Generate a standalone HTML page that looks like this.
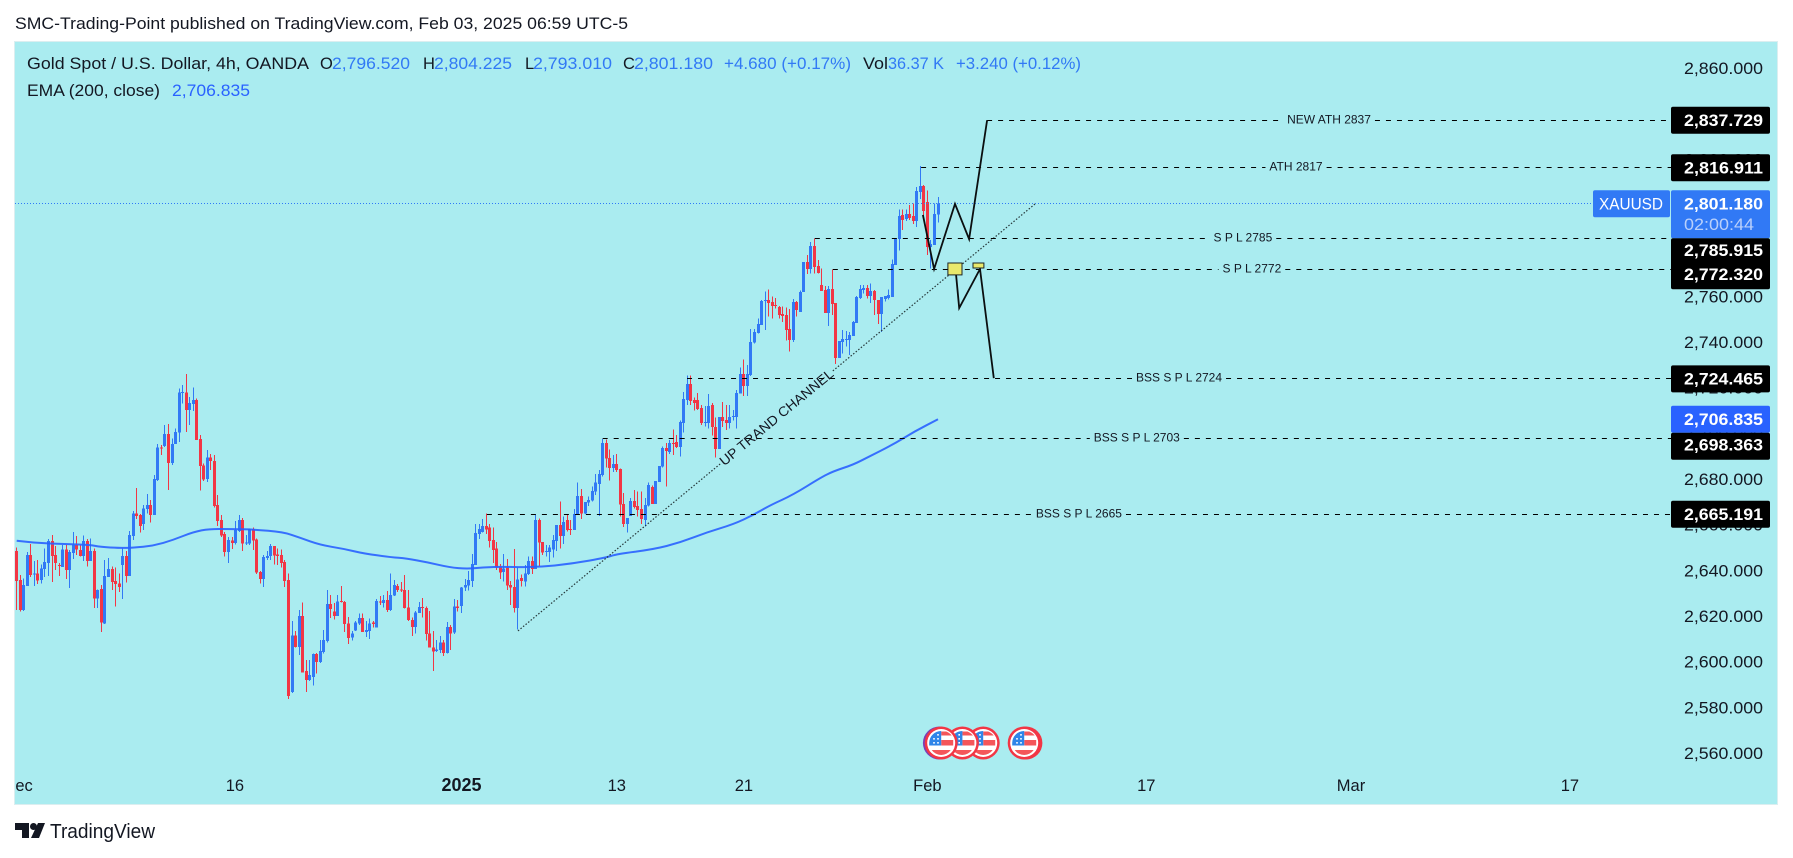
<!DOCTYPE html>
<html lang="en">
<head>
<meta charset="utf-8">
<title>Gold Spot / U.S. Dollar 4h chart</title>
<style>
html,body{margin:0;padding:0;background:#fff;width:1793px;height:858px;overflow:hidden}
svg{display:block;font-family:"Liberation Sans",Arial,sans-serif}
</style>
</head>
<body>
<svg id="chart" xmlns="http://www.w3.org/2000/svg" width="1793" height="858" viewBox="0 0 1793 858">
<defs><clipPath id="plot-clip"><rect x="15" y="42" width="1762" height="762"/></clipPath></defs>
<rect x="0" y="0" width="1793" height="858" fill="#ffffff"/>
<text x="15" y="29" font-size="17" fill="#131722" textLength="613" lengthAdjust="spacingAndGlyphs">SMC-Trading-Point published on TradingView.com, Feb 03, 2025 06:59 UTC-5</text>
<rect x="14.5" y="41.5" width="1763" height="763" fill="#aaecf0" stroke="#dbeef0" stroke-width="1"/>
<g id="layer-ticks"></g>
<g id="layer-time" clip-path="url(#plot-clip)"></g>
<g id="layer-candles" clip-path="url(#plot-clip)" shape-rendering="crispEdges"></g>
<g id="layer-ema" clip-path="url(#plot-clip)"></g>
<g id="layer-draw" clip-path="url(#plot-clip)"></g>
<g id="layer-flags"></g>
<g id="layer-labels"></g>

<g font-size="16.5">
<text x="27" y="69" fill="#131722" textLength="282" lengthAdjust="spacingAndGlyphs">Gold Spot / U.S. Dollar, 4h, OANDA</text>
<text x="320" y="69" fill="#131722">O</text>
<text x="332" y="69" fill="#3179f5" textLength="78" lengthAdjust="spacingAndGlyphs">2,796.520</text>
<text x="423" y="69" fill="#131722">H</text>
<text x="434" y="69" fill="#3179f5" textLength="78" lengthAdjust="spacingAndGlyphs">2,804.225</text>
<text x="525" y="69" fill="#131722">L</text>
<text x="533" y="69" fill="#3179f5" textLength="79" lengthAdjust="spacingAndGlyphs">2,793.010</text>
<text x="623" y="69" fill="#131722">C</text>
<text x="634" y="69" fill="#3179f5" textLength="79" lengthAdjust="spacingAndGlyphs">2,801.180</text>
<text x="724" y="69" fill="#3179f5" textLength="127" lengthAdjust="spacingAndGlyphs">+4.680 (+0.17%)</text>
<text x="863" y="69" fill="#131722" textLength="25" lengthAdjust="spacingAndGlyphs">Vol</text>
<text x="888" y="69" fill="#3179f5" textLength="56" lengthAdjust="spacingAndGlyphs">36.37 K</text>
<text x="956" y="69" fill="#3179f5" textLength="125" lengthAdjust="spacingAndGlyphs">+3.240 (+0.12%)</text>
<text x="27" y="96" fill="#131722" textLength="133" lengthAdjust="spacingAndGlyphs">EMA (200, close)</text>
<text x="172" y="96" fill="#2962ff" textLength="78" lengthAdjust="spacingAndGlyphs">2,706.835</text>
</g>

<g>
<path fill="#131722" d="M15 823H29V838H22V830H15Z M38 823H45L39 838H31Z"/>
<circle cx="33.5" cy="826.5" r="3.5" fill="#131722"/>
<text x="50" y="838" font-size="20" fill="#131722" textLength="105" lengthAdjust="spacingAndGlyphs">TradingView</text>
</g>
</svg>
<script>
var opens=[2649,2636.3,2623.2,2633.7,2647.3,2639,2639.3,2636.3,2641.2,2643.9,
2653.4,2647.3,2642.9,2642.2,2649.8,2640.7,2648.3,2651.7,2649.5,2646.9,
2653.4,2644.7,2649,2628.2,2632.4,2617.4,2637.8,2641.2,2635.9,2634.9,
2642.9,2646.9,2638.1,2655.6,2665.5,2664.8,2660.9,2667.4,2669.2,2664.8,
2680.1,2694.4,2695,2700.3,2687.7,2695.9,2700.9,2718.2,2718.4,2710.8,
2713.4,2715.2,2698.1,2686.6,2680.6,2690.1,2688.5,2669.2,2662.6,2656.6,
2648.6,2653.7,2652.5,2657.9,2662.6,2652.3,2652.4,2658.7,2654.2,2639.8,
2636.8,2646,2646.9,2651.2,2647.6,2647.3,2644.2,2636.3,2587.4,2612.2,
2607.1,2620.6,2596.5,2592.5,2594,2603.9,2600.4,2604.9,2609.6,2625.8,
2622.5,2620.7,2627.1,2626.8,2617.4,2611.1,2614.4,2617.4,2619.7,2613.7,
2614.1,2617.7,2615.5,2627,2626.4,2627.6,2623.2,2629.5,2633.7,2632.3,
2632,2624.4,2618.8,2615.9,2622,2624.5,2624.1,2613,2606.8,2605.4,
2605.7,2609,2604.5,2615.9,2613.3,2624.7,2625.1,2633,2633.9,2636,
2642.9,2656.5,2657.5,2660,2659.3,2653.9,2650.2,2642.2,2639.9,2641.8,
2634.2,2633.3,2624.1,2637.3,2635.8,2639,2644.7,2641.2,2662.7,2653,
2648.7,2648.7,2649.8,2653.5,2660.5,2655.7,2662.7,2658.7,2658.3,2665.2,
2673.2,2665.6,2670.3,2671.1,2675.1,2678.4,2682.4,2696.3,2689.8,2685.5,
2687.2,2685,2669.7,2660.9,2664.4,2671,2668.8,2667.5,2662.7,2669,
2677.1,2669.7,2679.3,2686,2694.2,2692.5,2696.4,2696.8,2694.7,2705.2,
2715.2,2722.2,2715.2,2715.2,2711.7,2705.2,2705.2,2713,2703.3,2693.8,
2707.8,2706.5,2705.2,2707.8,2707.8,2718.1,2726.6,2721.3,2726.1,2740.3,
2744.5,2748,2758.6,2759,2758.1,2756.8,2755.9,2752.9,2752.4,2746.3,
2741.5,2758.1,2753.7,2762.5,2775.6,2772.6,2782.7,2773.9,2765.6,2763.4,
2753.3,2763.8,2757.7,2733.6,2740.6,2741.5,2741.5,2743.2,2748.9,2759.9,
2763.4,2764.3,2760.8,2762.9,2759,2752.9,2759.4,2759.9,2760.3,2774.3,
2785.7,2796.2,2794.5,2796.7,2795.8,2793.6,2806.3,2808.9,2801.9,2782.2,
2783.1,2796.52];
var highs=[2650.6,2638.5,2637.1,2648.7,2652.1,2644.7,2645.1,2643.2,2650.2,2654.3,
2656,2651.2,2643.9,2651.7,2651.7,2649.5,2657.4,2655.6,2651.7,2655.8,
2654.3,2654.6,2650.2,2632.3,2634.1,2645.1,2646.1,2642.2,2641.9,2639.3,
2650.2,2649,2657.8,2666.6,2676.6,2665.2,2669.2,2674,2671.4,2682.3,
2695.9,2695.5,2704.2,2704.7,2698.4,2702.8,2720.3,2721.7,2726.6,2716.6,
2720.7,2715.9,2699.8,2687.4,2693.3,2691.5,2691.1,2673.6,2664.8,2657.5,
2655.3,2655.3,2662.2,2664.8,2663.6,2656,2659,2659.3,2654.6,2640.4,
2647.3,2649.2,2652.1,2651.2,2650.2,2649.8,2645.1,2639.3,2618.4,2614,
2623.2,2626.6,2601.3,2601.3,2604.2,2604.5,2610.1,2614.4,2632,2629.8,
2626.4,2629.8,2633.7,2627.3,2620.3,2614.1,2618.4,2621.7,2621.7,2618.4,
2619.5,2618.4,2628,2629.3,2629.8,2631.5,2639.3,2636.3,2634.6,2635.6,
2638.5,2632,2620,2622.9,2626.8,2628.5,2624.7,2622.9,2614.1,2610.1,
2611.8,2610.1,2618.1,2616.7,2628,2627.6,2633.4,2636.8,2640.3,2647.7,
2660.9,2660.9,2663.1,2665.5,2660.9,2659.3,2653.1,2643.4,2647.8,2645.5,
2636,2650,2641.8,2638.9,2643,2646.6,2646.6,2664.9,2663.4,2653,
2651.7,2651.7,2656.1,2660.5,2670.7,2664.1,2664.9,2662.7,2667.4,2679,
2676.3,2670.6,2672.9,2677.3,2682.8,2684.6,2698.2,2698,2693.6,2691.1,
2691.6,2685.3,2674.4,2663.6,2672.3,2675.8,2675.1,2675.1,2672.2,2679,
2677.7,2679.8,2686.3,2694.8,2696.3,2697.7,2702.4,2699.9,2706.2,2718.7,
2726,2726,2716.4,2718.2,2713,2712.6,2717.9,2713.8,2707.6,2707.8,
2714.4,2713,2713,2710.9,2719.6,2729.5,2733,2730.5,2746.3,2746.3,
2751,2759,2762.7,2763.7,2760.5,2760,2756.4,2756.1,2755.8,2755.1,
2759.4,2758.6,2763.1,2775.6,2778.7,2784.5,2786,2776.5,2772.9,2765.1,
2765.1,2772.4,2757.7,2741,2745.9,2745.4,2745.1,2749.8,2760.8,2765.6,
2765.6,2765.6,2766.3,2763.4,2759,2760.3,2760.8,2763.7,2776.8,2786.2,
2798.7,2798.7,2798.7,2800.6,2801.3,2808.6,2817.7,2809.4,2806.9,2785.3,
2801.3,2804.225];
var lows=[2623.2,2622.5,2622.9,2633.7,2637.8,2633.7,2634.7,2634.9,2637.8,2638.2,
2635.6,2640.7,2638.2,2642.2,2636.8,2633,2645.5,2647.3,2646.6,2644.8,
2642.2,2644.7,2624.2,2624.2,2613.7,2617.1,2637.8,2632,2624.7,2631.2,
2628,2635.2,2638.1,2653.9,2663.1,2657.1,2658.2,2665.5,2661.5,2664.8,
2679.7,2691.1,2694.7,2675.8,2686.7,2695.9,2696.9,2713.7,2701.3,2704.2,
2710.5,2697.7,2675.5,2679.8,2679.4,2684.5,2668.2,2660.1,2655.3,2646.6,
2643.9,2649.9,2652,2657.5,2649.2,2651.7,2651.7,2649.5,2639,2634.9,
2633.4,2645.1,2645.1,2643.1,2642.9,2641.9,2633.4,2584.2,2587,2606.8,
2603.5,2595.8,2587.4,2592.2,2590.1,2595.5,2600.1,2604.2,2608.9,2619.8,
2619.1,2620.6,2626.6,2613.7,2608.3,2609.8,2614.1,2616.6,2613.7,2611.5,
2610.6,2615.5,2615.5,2625.4,2624.4,2622.5,2622.9,2629.3,2631.2,2631.2,
2623.9,2618.4,2611.8,2613,2622,2620,2609.8,2606.8,2596.5,2604.9,
2604.5,2603.1,2604.2,2605.7,2612.7,2622.5,2622,2631.5,2631.7,2633.4,
2642.9,2654.3,2657.2,2656.5,2650.5,2643.9,2640.7,2636.8,2635.7,2632,
2625.4,2622.1,2614.8,2633.5,2633.5,2638.6,2639,2641.2,2642.5,2647.3,
2646.6,2644.4,2646.2,2649.2,2650.3,2652.2,2657.6,2656.1,2658.3,2664.9,
2663.1,2665.2,2668.8,2670.7,2673.6,2664.4,2681.7,2685.7,2679.9,2683.8,
2683.6,2664.1,2659.5,2657.1,2664.4,2667.8,2664.1,2660.9,2659.8,2668.5,
2669.7,2669.7,2679.3,2685.7,2677.3,2691.6,2691.1,2694.1,2690.4,2700.9,
2713,2713,2710.6,2710.9,2704.3,2703.6,2702.8,2699.6,2690.1,2693.8,
2703.3,2702.1,2702.8,2706.2,2702.8,2718.1,2717,2717,2725.7,2740,
2744.4,2748,2745.9,2751.7,2751,2755.3,2751,2749.5,2741.2,2736.4,
2740.6,2751.7,2753.7,2762.5,2770.4,2770.7,2770.7,2770.7,2762.9,2753.3,
2747.6,2752.4,2731,2733.6,2735.6,2738.6,2734.9,2743.2,2748.9,2759.4,
2761.9,2759.7,2757.8,2752.4,2748.5,2745.1,2758.3,2759.3,2760.3,2774.3,
2780.6,2789.7,2793.6,2794,2792.3,2791.1,2803.2,2794.8,2778.7,2772.9,
2783.1,2793.01];
var closes=[2636,2623.2,2634.1,2647.3,2638.5,2639.3,2636.3,2641.4,2644.2,2653.4,
2647,2643.9,2642.5,2649.8,2640.7,2648.7,2652,2649.8,2647,2653.4,
2644.8,2649,2628.2,2632,2617.7,2638.1,2641.2,2635.6,2634.7,2633.3,
2646.9,2638.1,2656,2665.5,2664.4,2660.1,2667.7,2669.2,2664.8,2680.6,
2694.4,2693.9,2700.3,2687.7,2695.9,2701.2,2718.4,2718.7,2710.8,2714,
2715.2,2697.7,2686.3,2680.4,2690.1,2688.5,2668.8,2662.2,2656,2648.6,
2653.9,2652.7,2658.2,2662.6,2652.3,2652.8,2658.7,2653.6,2639.6,2636.8,
2646.4,2646.9,2651.2,2647.1,2647,2643.9,2636,2585.5,2612.2,2607.1,
2620.6,2596,2592.5,2594.7,2603.9,2600.4,2605.2,2610.1,2625.8,2623.6,
2620.6,2627,2626.8,2617.1,2611.1,2613,2617.8,2619.7,2613.7,2614.4,
2617.4,2617.2,2627.1,2626.6,2627.6,2623.2,2629.8,2634.1,2632,2631.8,
2624.2,2618.8,2615.9,2622.2,2624.5,2624.2,2612.8,2606.8,2605.2,2606,
2609,2604.5,2615.9,2613,2624.7,2624.2,2633.1,2634.1,2636.3,2643.3,
2656.9,2658.7,2660,2658.5,2653.4,2649.5,2641.9,2639.6,2641.5,2633.9,
2633,2624.1,2636.7,2636,2639.3,2644.7,2641.2,2662.7,2652.8,2648.5,
2649.1,2650.6,2653.9,2660.5,2655.7,2661.7,2658.3,2658.3,2665.2,2673.2,
2665.6,2670.6,2671.4,2675.4,2679,2682.8,2696.3,2689.5,2685.5,2687.2,
2684.6,2669.4,2660.9,2663.6,2671,2668.4,2667.1,2663.1,2669.2,2678,
2669.7,2679.8,2686.3,2694.2,2692.9,2696.3,2696,2694.7,2705.6,2715.7,
2722.2,2714.8,2713.9,2711.3,2705.2,2705.6,2712.6,2703.3,2693.8,2707.8,
2706,2705.2,2707.8,2708.2,2718.2,2726.6,2721.3,2726.6,2740.6,2745,
2748.5,2758.6,2759,2757.7,2756.4,2756.4,2752.4,2752,2745.9,2741.5,
2758.1,2754.6,2762.5,2775.6,2772.6,2782.7,2773.5,2770.8,2762.9,2753.3,
2763.8,2757.2,2733.6,2741,2741.9,2741.9,2743.7,2749.4,2760.3,2763.8,
2764.3,2760.8,2762.9,2759,2752.9,2760.3,2760.8,2761.2,2774.8,2786.2,
2795.8,2794,2796.7,2794.9,2793.6,2806.7,2808.9,2798,2782.2,2783.5,
2796.7,2801.18];

var emaBars=[0,4.7,14.2,20.8,23.6,29.3,33,38.7,44.3,50,54.7,61.4,67,75.5,80.3,85.9,92.5,98.3,105.8,110.5,116.2,122.7,127.6,132.1,136.9,147.3,157.6,167.2,170,180.3,187.9,195.5,203,208.7,213.4,220,227.6,231.3,237,241.8,248,254.5,261];
var emaValues=[2653.6,2652.7,2652.1,2651.8,2650.9,2650.4,2650.5,2651.4,2653.9,2657.4,2658.8,2658.7,2658.5,2657.4,2654.9,2651.8,2650.1,2648,2646.4,2645.8,2644.2,2641.9,2641.3,2641.9,2642.2,2641.9,2643.6,2646.3,2647.8,2649.8,2652.8,2657.3,2660.8,2664.9,2669.1,2673.8,2681.1,2684,2686.9,2690.7,2695.5,2701.6,2706.8];

var priceTicks=[2860,2840,2820,2800,2780,2760,2740,2720,2700,2680,2660,2640,2620,2600,2580,2560];
var timeTickLabels=["Dec","16","2025","13","21","Feb","17","Mar","17"];
var timeTickBars=[0.4,61.8,126,170,206,258,320,378,440];

var levelPrices=[2837.729,2816.911,2785.915,2772.32,2724.465,2698.363,2665.191];
var levelStartBars=[274.9,256.2,226.1,231.2,189.9,166,133.2];
var levelNames=["NEW ATH 2837","ATH 2817","S P L 2785","S P L 2772","BSS S P L 2724","BSS S P L 2703","BSS S P L 2665"];

var lastPrice=2801.18;
var emaLast=2706.835;

var pathUpBars=[256.7,259.9,265.8,269.8,274.9];
var pathUpPrices=[2796.3,2772.6,2801.1,2785.7,2837.7];
var pathDownBars=[266.1,267,272.9,276.8];
var pathDownPrices=[2770.4,2755.5,2772.6,2724.8];
var trendBars=[142,288.5];
var trendPrices=[2614.1,2801.1];
var noteLeftBars=[263.8,270.9];
var noteRightBars=[267.8,274];
var noteTopPrices=[2775.2,2775.2];
var noteBottomPrices=[2770,2773];
var eventBars=[261.4,261.9,267.9,273.8,285.9,285.4];
var eventColors=["#7b3fb5","#f23645","#f23645","#f23645","#f23645","#f23645"];

var SVGNS="http://www.w3.org/2000/svg";
function xAxis(bar){return 16.7+3.53*bar;}
function yAxis(price){return 69.4+(2860-price)*2.2835;}
function mk(tag,parent,attrs){
  var el=document.createElementNS(SVGNS,tag);
  for(var k in attrs){el.setAttribute(k,attrs[k]);}
  parent.appendChild(el);
  return el;
}
function fmt(v){
  var s=v.toFixed(3);
  return s.charAt(0)+","+s.slice(1);
}
var layerTicks=document.getElementById("layer-ticks");
var layerTime=document.getElementById("layer-time");
var layerCandles=document.getElementById("layer-candles");
var layerEma=document.getElementById("layer-ema");
var layerDraw=document.getElementById("layer-draw");
var layerFlags=document.getElementById("layer-flags");
var layerLabels=document.getElementById("layer-labels");

priceTicks.forEach(function(p){
  var t=mk("text",layerTicks,{x:1684,y:(yAxis(p)+4.6).toFixed(1),"font-size":17,fill:"#131722",textLength:79,lengthAdjust:"spacingAndGlyphs"});
  
  
  t.textContent=fmt(p);
});
timeTickLabels.forEach(function(label,i){
  var bold=label==="2025";
  var t=mk("text",layerTime,{x:xAxis(timeTickBars[i]).toFixed(1),y:791,"font-size":bold?18:16.5,"font-weight":bold?"bold":"normal","text-anchor":"middle",fill:"#131722"});
  
  
  t.textContent=label;
});

// price line (dotted)
var lastY=Math.floor(yAxis(lastPrice))+0.5;
var priceLine=mk("line",layerDraw,{x1:15,x2:1593,y1:lastY,y2:lastY,stroke:"#2f7af7","stroke-width":1,"stroke-dasharray":"1 2"});



// candles
closes.forEach(function(c,i){
  var o=opens[i],h=highs[i],l=lows[i];
  var cx=xAxis(i);
  var color=c>=o?"#3179f5":"#f23645";
  var g=mk("g",layerCandles,{fill:color});
  
  
  var bx=Math.round(cx-1.5);
  var wick=mk("rect",g,{x:bx+1,y:yAxis(h).toFixed(1),width:1,height:Math.max(1,yAxis(l)-yAxis(h)).toFixed(1)});
  
  
  var top=yAxis(Math.max(o,c)),bot=yAxis(Math.min(o,c));
  var body=mk("rect",g,{x:bx,y:top.toFixed(1),width:3,height:Math.max(1,bot-top).toFixed(1)});
  
  
});

// EMA (smoothed through midpoints of consecutive readings)
var emaPts=emaBars.map(function(b,i){return [xAxis(b),yAxis(emaValues[i])];});
var emaD="M"+emaPts[0][0].toFixed(1)+" "+emaPts[0][1].toFixed(1);
for(var ei=1;ei<emaPts.length-1;ei++){
  var mx=(emaPts[ei][0]+emaPts[ei+1][0])/2,my=(emaPts[ei][1]+emaPts[ei+1][1])/2;
  emaD+="Q"+emaPts[ei][0].toFixed(1)+" "+emaPts[ei][1].toFixed(1)+" "+mx.toFixed(1)+" "+my.toFixed(1);
}
emaD+="L"+emaPts[emaPts.length-1][0].toFixed(1)+" "+emaPts[emaPts.length-1][1].toFixed(1);
var emaPath=mk("path",layerEma,{d:emaD,fill:"none",stroke:"#2962ff","stroke-width":2,"stroke-linejoin":"round","stroke-opacity":0.9});



// trend line with label gap
var tx1=xAxis(trendBars[0]),ty1=yAxis(trendPrices[0]),tx2=xAxis(trendBars[1]),ty2=yAxis(trendPrices[1]);
var tmx=(tx1+tx2)/2,tmy=(ty1+ty2)/2,tlen=Math.hypot(tx2-tx1,ty2-ty1),tux=(tx2-tx1)/tlen,tuy=(ty2-ty1)/tlen;
var tGap=73;
var trendA=mk("line",layerDraw,{x1:tx1,y1:ty1,x2:tmx-tux*tGap,y2:tmy-tuy*tGap,stroke:"#26383a","stroke-width":1.2,"stroke-dasharray":"1.5 1.8"});


var trendB=mk("line",layerDraw,{x1:tmx+tux*tGap,y1:tmy+tuy*tGap,x2:tx2,y2:ty2,stroke:"#26383a","stroke-width":1.2,"stroke-dasharray":"1.5 1.8"});


var trendText=mk("text",layerDraw,{x:0,y:4.5,"font-size":13.5,fill:"#131722","text-anchor":"middle",textLength:143,lengthAdjust:"spacingAndGlyphs",transform:"translate("+tmx.toFixed(1)+" "+tmy.toFixed(1)+") rotate("+(Math.atan2(ty2-ty1,tx2-tx1)*180/Math.PI).toFixed(1)+")"});


trendText.textContent="UP TRAND CHANNEL";

// levels
var axisEdge=1671;
levelPrices.forEach(function(p,i){
  var y=Math.floor(yAxis(p))+0.5,xs=xAxis(levelStartBars[i]),mid=(xs+axisEdge)/2;
  var t=mk("text",layerDraw,{x:mid.toFixed(1),y:(y+3).toFixed(1),"font-size":12,fill:"#131722","text-anchor":"middle"});
  
  
  t.textContent=levelNames[i];
  var w=t.getComputedTextLength()/2+4;
  var a=mk("line",layerDraw,{x1:xs,x2:mid-w,y1:y,y2:y,stroke:"#000","stroke-width":1,"stroke-dasharray":"5 6"});
  
  
  var b=mk("line",layerDraw,{x1:mid+w,x2:axisEdge,y1:y,y2:y,stroke:"#000","stroke-width":1,"stroke-dasharray":"5 6"});
  
  
});

// scenario paths
function polyD(bars,prices){return bars.map(function(b,i){return (i?"L":"M")+xAxis(b).toFixed(1)+" "+yAxis(prices[i]).toFixed(1);}).join("");}
var up=mk("path",layerDraw,{d:polyD(pathUpBars,pathUpPrices),fill:"none",stroke:"#0b0f10","stroke-width":1.8,"stroke-linejoin":"miter"});


var down=mk("path",layerDraw,{d:polyD(pathDownBars,pathDownPrices),fill:"none",stroke:"#0b0f10","stroke-width":1.8,"stroke-linejoin":"miter"});


noteLeftBars.forEach(function(b,i){
  var x1=xAxis(b),x2=xAxis(noteRightBars[i]),y1=yAxis(noteTopPrices[i]),y2=yAxis(noteBottomPrices[i]);
  var r=mk("rect",layerDraw,{x:x1.toFixed(1),y:y1.toFixed(1),width:(x2-x1).toFixed(1),height:(y2-y1).toFixed(1),fill:"#e9e96c",stroke:"#1c2526","stroke-width":1});
  
  
});

// flags (right to left so leftmost sits on top)
for(var fi=eventBars.length-1;fi>=0;fi--){
  if(fi===0||fi===4){continue;}
}
function drawFlag(fi){
  var fx=xAxis(eventBars[fi]),fy=743;
  var fg=mk("g",layerFlags,{transform:"translate("+fx.toFixed(1)+" "+fy+")"});
  
  
  var c1=mk("circle",fg,{r:16.5,fill:eventColors[fi]});
  
  
  var c2=mk("circle",fg,{r:14,fill:"#ffffff"});
  
  
  var s1=mk("path",fg,{d:"M0 -3H12V2.5H0Z",fill:"#f4565a"});
  
  
  var s2=mk("path",fg,{d:"M-9.5 7H9.5A11.5 11.5 0 0 1 -9.5 7Z",fill:"#f4565a"});
  
  
  var s3=mk("path",fg,{d:"M0 -11.5H5A12 12 0 0 1 10.5 -7.5H0Z",fill:"#f4565a"});
  
  
  var cn=mk("path",fg,{d:"M-12 2.5V0A12 12 0 0 1 0 -12V2.5Z",fill:"#2f85e8"});
  
  
  var ds=mk("path",fg,{d:"M-8 -5h1.6v1.6h-1.6z M-4 -5h1.6v1.6h-1.6z M-8 -1h1.6v1.6h-1.6z M-4 -1h1.6v1.6h-1.6z M-4 -9h1.6v1.6h-1.6z",fill:"#ffffff"});
  
  
}
[4,5,3,2,0,1].forEach(drawFlag);

// axis labels
function labelBox(name,top,h,fill){
  var r=mk("rect",layerLabels,{x:1671,y:top.toFixed(1),width:99,height:h,rx:2,fill:fill});
  
  
  return r;
}
function labelText(name,x,yc,str,color,w,weight){
  var t=mk("text",layerLabels,{x:x,y:(yc+6).toFixed(1),"font-size":17,"font-weight":weight,fill:color,textLength:w,lengthAdjust:"spacingAndGlyphs"});
  
  
  t.textContent=str;
  return t;
}
var axisEntries=levelPrices.map(function(p){return {price:p,kind:"level"};});
axisEntries.push({price:lastPrice,kind:"last"});
axisEntries.push({price:emaLast,kind:"ema"});
axisEntries.sort(function(a,b){return b.price-a.price;});
var prevBottom=-100,prevPushed=false;
axisEntries.forEach(function(e){
  var y=yAxis(e.price);
  var h=e.kind==="last"?48:27;
  var top=y-13.5;
  var pushed=false;
  if(top<prevBottom){
    top=prevPushed?prevBottom-3:prevBottom;
    pushed=true;
  }
  var fill=e.kind==="last"?"#3179f5":(e.kind==="ema"?"#2962ff":"#000000");
  labelBox(e.kind==="level"?"level-price-label":(e.kind==="last"?"last-price-label":"ema-price-label"),top,h,fill);
  var yc=pushed?top+12:top+13.2;
  labelText("axis-price-text",1684,yc,fmt(e.price),"#ffffff",79,"bold");
  if(e.kind==="last"){
    labelText("countdown-text",1684,top+34,"02:00:44","#b9d0fb",70,"normal");
    var sym=mk("rect",layerLabels,{x:1593,y:top.toFixed(1),width:77,height:27,rx:2,fill:"#3179f5"});
    
    
    labelText("symbol-label-text",1599,top+13.2,"XAUUSD","#ffffff",64,"normal");
  }
  prevBottom=top+h;
  prevPushed=pushed;
});
</script>
</body>
</html>
